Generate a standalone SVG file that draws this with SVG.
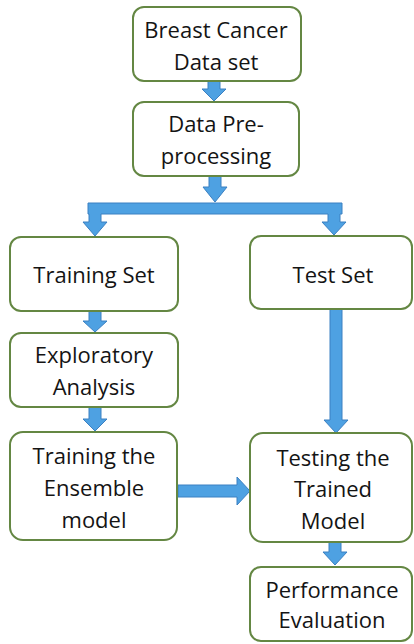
<svg xmlns="http://www.w3.org/2000/svg" width="414" height="644" viewBox="0 0 414 644">
<style>
.box{fill:#ffffff;stroke:#648743;stroke-width:2}
.t{font-family:"Open Sans","Liberation Sans",sans-serif;font-size:22px;fill:#141414;text-anchor:middle}
.arr{fill:#4ea1e2;stroke:#3b80c2;stroke-width:1}
</style>
<rect width="414" height="644" fill="#ffffff"/>
<g id="connectors">
<polygon class="arr" points="208,81 220,81 220,89 226,89 214,101 202,89 208,89"/>
<polygon class="arr" points="209,176 221,176 221,187 227,187 215,202 203,187 209,187"/>
<polygon class="arr" points="88,203 342,203 342,214 340,214 340,222 346,222 334,235 322,222 328,222 328,214 101,214 101,222 107,222 95,236 83,222 89,222 89,214 88,214"/>
<polygon class="arr" points="89,311 101,311 101,321 107,321 95,332 83,321 89,321"/>
<polygon class="arr" points="89,407 101,407 101,419 107,419 95,431 83,419 89,419"/>
<polygon class="arr" points="330,309 342,309 342,420 348,420 336,433 324,420 330,420"/>
<polygon class="arr" points="178,485 237,485 237,477 250,491 237,505 237,497 178,497"/>
<polygon class="arr" points="329,542 341,542 341,552 347,552 335,565 323,552 329,552"/>
</g>
<g id="breast-cancer">
<rect class="box" x="133" y="7" width="168" height="74" rx="11"/>
<text class="t" x="216" y="38">Breast Cancer</text>
<text class="t" x="216" y="70">Data set</text>
</g>
<g id="preprocessing">
<rect class="box" x="133" y="102" width="166" height="74" rx="11"/>
<text class="t" x="216" y="132">Data Pre-</text>
<text class="t" x="216" y="164">processing</text>
</g>
<g id="training-set">
<rect class="box" x="10" y="237" width="168" height="74" rx="11"/>
<text class="t" x="94" y="283">Training Set</text>
</g>
<g id="test-set">
<rect class="box" x="250" y="236" width="162" height="73" rx="11"/>
<text class="t" x="333" y="283">Test Set</text>
</g>
<g id="exploratory">
<rect class="box" x="10" y="333" width="168" height="74" rx="11"/>
<text class="t" x="94" y="363">Exploratory</text>
<text class="t" x="94" y="395">Analysis</text>
</g>
<g id="training-ensemble">
<rect class="box" x="10" y="432" width="167" height="108" rx="13"/>
<text class="t" x="94" y="464">Training the</text>
<text class="t" x="94" y="496">Ensemble</text>
<text class="t" x="94" y="528">model</text>
</g>
<g id="testing-trained">
<rect class="box" x="250" y="433" width="162" height="109" rx="13"/>
<text class="t" x="333" y="466">Testing the</text>
<text class="t" x="333" y="497">Trained</text>
<text class="t" x="333" y="529">Model</text>
</g>
<g id="performance">
<rect class="box" x="250" y="567" width="162" height="74" rx="11"/>
<text class="t" x="332" y="598">Performance</text>
<text class="t" x="332" y="628">Evaluation</text>
</g>
</svg>
